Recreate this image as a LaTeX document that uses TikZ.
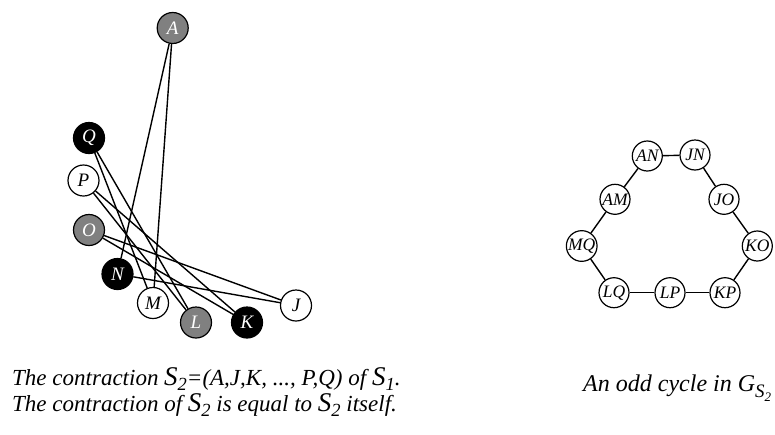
\documentclass[tikz,border=0pt]{standalone}
\usepackage{fontspec}
\setmainfont{Liberation Serif}
\newcommand\capS[1]{{\fontsize{27pt}{27pt}\selectfont S}\raisebox{-5pt}{\fontsize{18.5pt}{18.5pt}\selectfont #1}}
\begin{document}
\begin{tikzpicture}[x=1pt,y=-1pt,
  vtx/.style={circle,draw,line width=1.2pt,minimum size=31pt,inner sep=0pt,font=\fontsize{19pt}{19pt}\selectfont\itshape},
  wv/.style={vtx,fill=white,text=black},
  gv/.style={vtx,fill=gray,text=white},
  bv/.style={vtx,fill=black,text=white},
  cv/.style={circle,draw,line width=1.2pt,minimum size=30pt,inner sep=0pt,fill=white,font=\fontsize{17.5pt}{17.5pt}\selectfont\itshape},
  captext/.style={anchor=base west,inner sep=0pt,font=\fontsize{23pt}{23pt}\selectfont\itshape},
  edge/.style={line width=1.4pt}]
\useasboundingbox (0,0) rectangle (775,434);
% left graph
\node[gv] (A) at (172.7,28) {A};
\node[bv] (Q) at (89,138) {Q};
\node[wv] (P) at (83.5,180.5) {P};
\node[gv] (O) at (89,230) {O};
\node[bv] (N) at (117.5,274) {N};
\node[wv] (M) at (153,303) {M};
\node[gv] (L) at (196,322.5) {L};
\node[bv] (K) at (247,322.5) {K};
\node[wv] (J) at (296,305.5) {J};
\draw[edge] (A) -- (N);
\draw[edge] (A) -- (M);
\draw[edge] (Q) -- (M);
\draw[edge] (Q) -- (L);
\draw[edge] (P) -- (L);
\draw[edge] (P) -- (K);
\draw[edge] (O) -- (K);
\draw[edge] (O) -- (J);
\draw[edge] (N) -- (J);
% right graph
\node[cv] (AN) at (647.3,156) {AN};
\node[cv] (JN) at (695,155) {JN};
\node[cv] (AM) at (615,199.3) {AM};
\node[cv] (JO) at (724,199.3) {JO};
\node[cv] (MQ) at (581.7,246) {MQ};
\node[cv] (KO) at (757.3,246) {KO};
\node[cv] (LQ) at (614,292.7) {LQ};
\node[cv] (LP) at (670,292.7) {LP};
\node[cv] (KP) at (725,292.7) {KP};
\draw[edge] (AN) -- (JN);
\draw[edge] (JN) -- (JO);
\draw[edge] (JO) -- (KO);
\draw[edge] (KO) -- (KP);
\draw[edge] (KP) -- (LP);
\draw[edge] (LP) -- (LQ);
\draw[edge] (LQ) -- (MQ);
\draw[edge] (MQ) -- (AM);
\draw[edge] (AM) -- (AN);
% captions
\node[captext] (cap1) at (12,385) {The contraction \capS{2}=(A,J,K, ..., P,Q) of \capS{1}.};
\node[captext] (cap2) at (12,411) {The contraction of \capS{2} is equal to \capS{2} itself.};
\node[captext,font=\fontsize{24pt}{24pt}\selectfont\itshape] (cap3) at (583,391.5) {An odd cycle in G\raisebox{-6pt}{{\fontsize{19pt}{19pt}\selectfont S}\raisebox{-3.5pt}{\fontsize{13pt}{13pt}\selectfont 2}}};
\end{tikzpicture}
\end{document}
